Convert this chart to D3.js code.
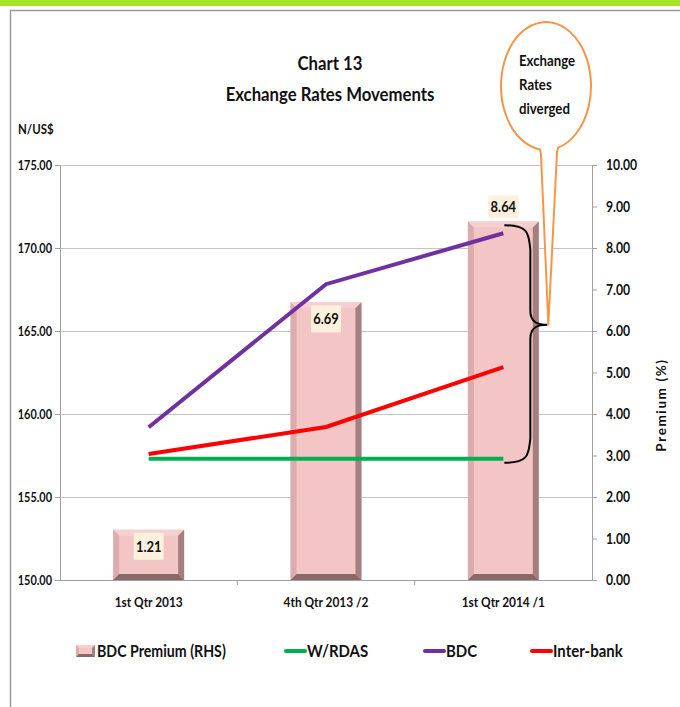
<!DOCTYPE html>
<html>
<head>
<meta charset="utf-8">
<script src="https://cdn.jsdelivr.net/npm/d3@7/dist/d3.min.js"></script>
<style>
  html, body { margin: 0; padding: 0; background: #fff; }
  svg { display: block; }
  text { font-family: Lato, "Open Sans", sans-serif; font-weight: bold; fill: #111; }
</style>
</head>
<body>
<script>
// Quarterly exchange rates (N/US$) and BDC premium (%)
const categories = ["1st Qtr 2013", "4th Qtr 2013 /2", "1st Qtr 2014 /1"];
const premium = [1.21, 6.69, 8.64];
const wrdas = [157.30, 157.30, 157.30];
const bdc = [159.20, 167.82, 170.89];
const interbank = [157.59, 159.22, 162.83];
const leftTicks = [150, 155, 160, 165, 170, 175];
const rightTicks = [0, 1, 2, 3, 4, 5, 6, 7, 8, 9, 10];

const W = 680, H = 707;
const plot = { left: 60, right: 592, top: 165, bottom: 580 };
const K = 0.88; // horizontal squeeze for a narrow face

const svg = d3.select("body").append("svg").attr("width", W).attr("height", H);

function condense(sel, k) {
  sel.each(function () {
    const L = this.getComputedTextLength();
    d3.select(this).attr("textLength", L * k).attr("lengthAdjust", "spacingAndGlyphs");
  });
  return sel;
}

// page frame
svg.append("rect").attr("x", 0).attr("y", 0).attr("width", W).attr("height", 6).attr("fill", "#a6e52a");
svg.append("path").attr("d", `M10.5,${H} V10.5 H${W}`).attr("fill", "none").attr("stroke", "#9a9a9a").attr("stroke-width", 1.5);

const x = d3.scaleBand().domain(categories).range([plot.left, plot.right]).padding(0);
const yL = d3.scaleLinear().domain([150, 175]).range([plot.bottom, plot.top]);
const yR = d3.scaleLinear().domain([0, 10]).range([plot.bottom, plot.top]);

// gridlines
svg.append("g").selectAll("line").data(leftTicks.filter(v => v > 150)).join("line")
  .attr("x1", plot.left).attr("x2", plot.right)
  .attr("y1", d => Math.round(yL(d)) + 0.5).attr("y2", d => Math.round(yL(d)) + 0.5)
  .attr("stroke", "#c4c4c4").attr("stroke-width", 1);

// left axis
const gL = svg.append("g").attr("transform", `translate(${plot.left},0)`)
  .call(d3.axisLeft(yL).tickValues(leftTicks).tickFormat(d3.format(".2f")).tickSize(5).tickPadding(3));
gL.select(".domain").attr("stroke", "#a0a0a0");
gL.selectAll(".tick line").attr("stroke", "#a0a0a0");
gL.selectAll("text").attr("font-family", null).attr("font-size", null).style("font-size", "13px");
condense(gL.selectAll("text"), 0.84);

// right axis
const gR = svg.append("g").attr("transform", `translate(${plot.right},0)`)
  .call(d3.axisRight(yR).tickValues(rightTicks).tickFormat(d3.format(".2f")).tickSize(5).tickPadding(9));
gR.select(".domain").attr("stroke", "#a0a0a0");
gR.selectAll(".tick line").attr("stroke", "#a0a0a0");
gR.selectAll("text").attr("font-family", null).attr("font-size", null).style("font-size", "14.5px");
condense(gR.selectAll("text"), 0.84);

// bottom axis
const gB = svg.append("g").attr("transform", `translate(0,${plot.bottom})`)
  .call(d3.axisBottom(x).tickSize(0).tickPadding(17));
gB.select(".domain").attr("stroke", "#a0a0a0");
gB.selectAll("text").attr("font-family", null).attr("font-size", null).style("font-size", "13.5px");
condense(gB.selectAll("text"), K);
// category separator ticks
svg.append("g").selectAll("line").data(categories.slice(1)).join("line")
  .attr("x1", d => x(d)).attr("x2", d => x(d))
  .attr("y1", plot.bottom).attr("y2", plot.bottom + 5)
  .attr("stroke", "#a0a0a0");

// bevelled premium bars
const barW = x.bandwidth() * 0.4;
const bev = 6;
function bevelBar(g, x0, y0, w, h, b) {
  const x1 = x0 + w, y1 = y0 + h;
  g.append("rect").attr("x", x0).attr("y", y0).attr("width", w).attr("height", h).attr("fill", "#f3c5c5");
  g.append("polygon").attr("points", [[x0, y0], [x1, y0], [x1 - b, y0 + b], [x0 + b, y0 + b]].join(" ")).attr("fill", "#f6d0d0");
  g.append("polygon").attr("points", [[x0, y0], [x0 + b, y0 + b], [x0 + b, y1 - b], [x0, y1]].join(" ")).attr("fill", "#dcacac");
  g.append("polygon").attr("points", [[x1, y0], [x1, y1], [x1 - b, y1 - b], [x1 - b, y0 + b]].join(" ")).attr("fill", "#a57e7e");
  g.append("polygon").attr("points", [[x0, y1], [x1, y1], [x1 - b, y1 - b], [x0 + b, y1 - b]].join(" ")).attr("fill", "#8a6868");
}
const barsG = svg.append("g");
premium.forEach((v, i) => {
  const cx = x(categories[i]) + x.bandwidth() / 2;
  bevelBar(barsG, cx - barW / 2, yR(v), barW, yR(0) - yR(v), bev);
});

// exchange-rate lines
const lineGen = d3.line()
  .x((d, i) => x(categories[i]) + x.bandwidth() / 2)
  .y(d => yL(d));
const series = [
  { name: "W/RDAS", values: wrdas, color: "#00b050" },
  { name: "Inter-bank", values: interbank, color: "#ff0000" },
  { name: "BDC", values: bdc, color: "#7030a0" }
];
series.forEach(s => {
  svg.append("path").datum(s.values).attr("d", lineGen)
    .attr("fill", "none").attr("stroke", s.color).attr("stroke-width", 4);
});

// premium value labels (the tallest one sits just above its bar)
const maxPrem = d3.max(premium);
premium.forEach((v, i) => {
  const cx = x(categories[i]) + x.bandwidth() / 2;
  const above = v === maxPrem;
  const top = above ? yR(v) - 26 : yR(v) + 3;
  const h = above ? 23 : 27;
  const g = svg.append("g").attr("transform", `translate(${cx},0)`);
  g.append("rect").attr("x", -15).attr("y", top).attr("width", 30).attr("height", h).attr("fill", "#fdf0dc");
  const t = g.append("text").attr("text-anchor", "middle").attr("y", top + h / 2).attr("dy", "0.36em")
    .style("font-size", "15px").text(v.toFixed(2));
  condense(t, 0.86);
});

// brace spanning the spread of rates in the latest quarter
const bx = x(categories[2]) + x.bandwidth() / 2 + 1;
const bTop = yL(bdc[2]) - 8, bBot = yL(wrdas[2]) + 4;
const bMid = yR(6.15);
const bOut = bx + 26, bTip = bx + 43;
const braceD = `M${bx},${bTop}
  C${bOut},${bTop} ${bOut - 2},${bTop + 10} ${bOut},${bTop + 24}
  L${bOut},${bMid - 14}
  C${bOut},${bMid - 2} ${bOut + 8},${bMid} ${bTip},${bMid}
  C${bOut + 8},${bMid} ${bOut},${bMid + 2} ${bOut},${bMid + 14}
  L${bOut},${bBot - 24}
  C${bOut - 2},${bBot - 10} ${bOut},${bBot} ${bx},${bBot}`;
svg.append("path").attr("d", braceD).attr("fill", "none").attr("stroke", "#000").attr("stroke-width", 2);

// callout bubble
const ecx = 546, ecy = 86, erx = 45, ery = 64;
const nL = 540, nR = 558;
const nyL = ecy + ery * Math.sqrt(1 - ((nL - ecx) / erx) ** 2);
const nyR = ecy + ery * Math.sqrt(1 - ((nR - ecx) / erx) ** 2);
svg.append("path")
  .attr("d", `M${nL},${nyL} A${erx},${ery} 0 1 1 ${nR},${nyR} L${nR - 1},${nyR + 5} L${bTip + 1},${bMid} L${nL + 1},${nyL + 5} Z`)
  .attr("fill", "#fff").attr("stroke", "#f79646").attr("stroke-width", 2).attr("stroke-linejoin", "round");
["Exchange", "Rates", "diverged"].forEach((t, i) => {
  const tt = svg.append("text").attr("x", 519).attr("y", 66 + i * 24).style("font-size", "15px").text(t);
  condense(tt, K);
});

// titles
condense(svg.append("text").attr("x", 330).attr("y", 70).attr("text-anchor", "middle").style("font-size", "19px").text("Chart 13"), K);
condense(svg.append("text").attr("x", 330).attr("y", 101).attr("text-anchor", "middle").style("font-size", "19px").text("Exchange Rates Movements"), K);
condense(svg.append("text").attr("x", 18).attr("y", 134).style("font-size", "13px").text("N/US$"), K);
svg.append("text").attr("transform", "translate(666,405) rotate(-90)").attr("text-anchor", "middle")
  .style("font-size", "13.5px").style("letter-spacing", "1.6px").text("Premium (%)");

// legend
const ly = 651;
const lg = svg.append("g");
bevelBar(lg, 76, ly - 6, 19, 12, 3);
condense(lg.append("text").attr("x", 97).attr("y", ly).attr("dy", "0.36em").style("font-size", "17px").text("BDC Premium (RHS)"), 0.835);
const legItems = [
  { name: "W/RDAS", color: "#00b050", x: 286 },
  { name: "BDC", color: "#7030a0", x: 425 },
  { name: "Inter-bank", color: "#ff0000", x: 532 }
];
legItems.forEach(d => {
  lg.append("line").attr("x1", d.x).attr("x2", d.x + 19).attr("y1", ly).attr("y2", ly)
    .attr("stroke", d.color).attr("stroke-width", 4).attr("stroke-linecap", "round");
  condense(lg.append("text").attr("x", d.x + 21).attr("y", ly).attr("dy", "0.36em").style("font-size", "17px").text(d.name), K);
});
</script>
</body>
</html>
